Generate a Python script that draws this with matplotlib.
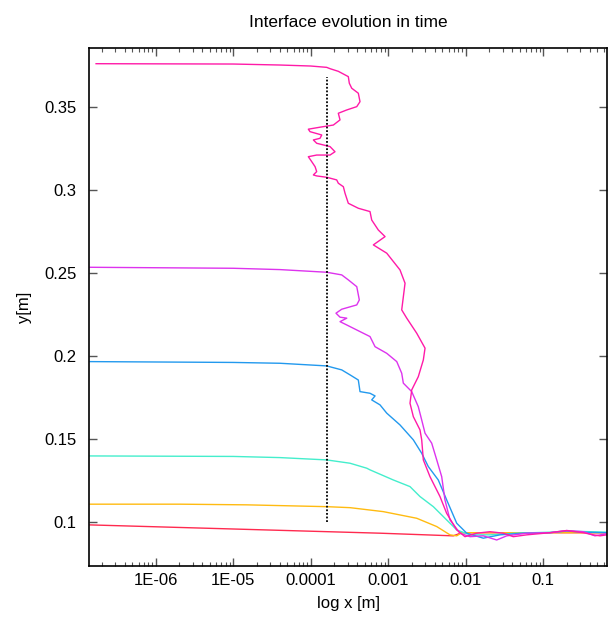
import numpy as np
import matplotlib
matplotlib.use("Agg")
import matplotlib.pyplot as plt
from matplotlib.ticker import FixedLocator, FixedFormatter, LogLocator, NullFormatter, NullLocator

plt.rcParams['font.family'] = ['Liberation Sans', 'DejaVu Sans']

# interface profiles, x given as log10(x [m]), y in m
pink_logx = [-6.770, -5.0, -4.396, -4.0, -3.794, -3.751, -3.644, -3.515, -3.502, -3.471, -3.386, -3.364, -3.406,
             -3.535, -3.644, -3.622, -3.708, -3.880, -4.031, -4.009, -3.858, -3.880, -3.966, -3.923, -3.751,
             -3.687, -3.751, -3.923, -4.031, -3.987, -3.944, -3.923, -3.966, -3.923, -3.794, -3.665, -3.644,
             -3.579, -3.557, -3.515, -3.386, -3.235, -3.213, -3.128, -3.041, -3.192, -3.019, -2.848, -2.783,
             -2.826, -2.761, -2.632, -2.525, -2.547, -2.612, -2.697, -2.719, -2.676, -2.590, -2.568, -2.547,
             -2.461, -2.332, -2.246, -2.116, -2.010, -1.858, -1.686, -1.515, -1.386, -1.213, -0.912, -0.697,
             -0.483, -0.354, -0.267, -0.181]
pink_y = [0.3764, 0.3762, 0.3756, 0.3750, 0.3742, 0.3734, 0.3718, 0.3686, 0.3646, 0.3616, 0.3586, 0.3535, 0.3505,
          0.3485, 0.3465, 0.3425, 0.3394, 0.3381, 0.3369, 0.3354, 0.3334, 0.3314, 0.3304, 0.3284, 0.3264,
          0.3233, 0.3213, 0.3213, 0.3203, 0.3173, 0.3143, 0.3113, 0.3093, 0.3087, 0.3079, 0.3063, 0.3043,
          0.3022, 0.2982, 0.2922, 0.2892, 0.2872, 0.2821, 0.2761, 0.2721, 0.2671, 0.2621, 0.2520, 0.2440,
          0.2279, 0.2229, 0.2138, 0.2048, 0.1977, 0.1876, 0.1796, 0.1716, 0.1635, 0.1555, 0.1495, 0.1374,
          0.1273, 0.1153, 0.1052, 0.0952, 0.0911, 0.0932, 0.0941, 0.0932, 0.0911, 0.0922, 0.0935, 0.0948,
          0.0935, 0.0922, 0.0916, 0.0922]

magenta_logx = [-6.848, -5.0, -4.396, -3.794, -3.600, -3.515, -3.406, -3.373, -3.406, -3.600, -3.674, -3.622,
                -3.535, -3.622, -3.535, -3.364, -3.235, -3.170, -3.019, -2.890, -2.826, -2.805, -2.697, -2.612,
                -2.568, -2.525, -2.439, -2.374, -2.310, -2.268, -2.203, -2.074, -1.945, -1.773, -1.600, -1.471,
                -1.213, -0.912, -0.697, -0.483, -0.332, -0.181]
magenta_y = [0.2536, 0.2530, 0.2522, 0.2506, 0.2490, 0.2460, 0.2419, 0.2339, 0.2309, 0.2283, 0.2259, 0.2235,
             0.2229, 0.2208, 0.2188, 0.2148, 0.2118, 0.2057, 0.2017, 0.1967, 0.1897, 0.1837, 0.1786, 0.1695,
             0.1615, 0.1535, 0.1475, 0.1374, 0.1273, 0.1133, 0.1012, 0.0932, 0.0911, 0.0916, 0.0891, 0.0916,
             0.0932, 0.0935, 0.0948, 0.0941, 0.0916, 0.0929]

blue_logx = [-6.848, -5.0, -4.396, -3.794, -3.600, -3.493, -3.386, -3.364, -3.235, -3.170, -3.213, -3.106,
             -3.019, -2.848, -2.676, -2.568, -2.483, -2.354, -2.246, -2.116, -1.987, -1.773, -1.557, -1.257,
             -0.912, -0.697, -0.483, -0.181]
blue_y = [0.1967, 0.1962, 0.1957, 0.1941, 0.1917, 0.1887, 0.1856, 0.1786, 0.1776, 0.1760, 0.1736, 0.1706,
          0.1656, 0.1585, 0.1495, 0.1414, 0.1334, 0.1253, 0.1133, 0.0992, 0.0932, 0.0902, 0.0922, 0.0932,
          0.0935, 0.0945, 0.0938, 0.0935]

cyan_logx = [-6.848, -5.0, -4.396, -3.794, -3.493, -3.277, -3.235, -2.934, -2.719, -2.590, -2.418, -2.246,
             -2.116, -1.945, -1.686, -1.342, -0.912, -0.697, -0.181]
cyan_y = [0.1398, 0.1395, 0.1388, 0.1374, 0.1354, 0.1324, 0.1314, 0.1253, 0.1213, 0.1153, 0.1092, 0.1012,
          0.0952, 0.0922, 0.0922, 0.0932, 0.0938, 0.0945, 0.0938]

gold_logx = [-6.848, -5.686, -4.826, -3.794, -3.493, -3.063, -2.632, -2.374, -2.203, -2.116, -2.05, -0.181]
gold_y = [0.1107, 0.1107, 0.1103, 0.1092, 0.1086, 0.1062, 0.1022, 0.0972, 0.0922, 0.0916, 0.0935, 0.0935]

red_logx = [-6.848, -3.106, -2.160, -2.05, -0.181]
red_y = [0.0982, 0.0932, 0.0916, 0.0935, 0.0935]

# dotted marker line
mark_x = 1.62e-4
mark_y = [0.1, 0.3686]

series = [
    (red_logx, red_y, '#ff2a4f'),
    (gold_logx, gold_y, '#ffbb11'),
    (cyan_logx, cyan_y, '#44eecc'),
    (blue_logx, blue_y, '#2299ee'),
    (magenta_logx, magenta_y, '#dd33ee'),
    (pink_logx, pink_y, '#ff1aa8'),
]

xticks = [1e-6, 1e-5, 1e-4, 1e-3, 1e-2, 1e-1]
xtick_labels = ['1E-06', '1E-05', '0.0001', '0.001', '0.01', '0.1']
yticks = [0.1, 0.15, 0.2, 0.25, 0.3, 0.35]
ytick_labels = ['0.1', '0.15', '0.2', '0.25', '0.3', '0.35']

fig = plt.figure(figsize=(6.11, 6.23), dpi=100)
ax = fig.add_axes([0.1462, 0.092, 0.8468, 0.8305])

for lx, y, c in series:
    ax.plot(10 ** np.array(lx), y, color=c, lw=1.0)

ax.plot([mark_x, mark_x], mark_y, color='black', lw=1.3, ls=(0, (1, 1)))

ax.set_xscale('log')
ax.set_xlim(1.39e-7, 0.66)
ax.set_ylim(0.0736, 0.3857)

ax.xaxis.set_major_locator(FixedLocator(xticks))
ax.xaxis.set_major_formatter(FixedFormatter(xtick_labels))
ax.xaxis.set_minor_locator(LogLocator(base=10, subs=np.arange(2, 10), numticks=20))
ax.xaxis.set_minor_formatter(NullFormatter())
ax.yaxis.set_major_locator(FixedLocator(yticks))
ax.yaxis.set_major_formatter(FixedFormatter(ytick_labels))
ax.yaxis.set_minor_locator(NullLocator())

ax.tick_params(which='both', direction='in', top=True, right=True, color='#555555', labelsize=12)
ax.tick_params(which='major', length=6, width=1.0)
ax.tick_params(which='minor', length=3, width=0.8)
ax.tick_params(axis='x', pad=5)
ax.tick_params(axis='y', pad=9)
for s in ax.spines.values():
    s.set_linewidth(1.2)

ax.set_title('Interface evolution in time', fontsize=12.5, pad=15)
ax.set_xlabel('log x [m]', fontsize=12, labelpad=6)
ax.set_ylabel('y[m]', fontsize=12, labelpad=9)

fig.savefig('out.png', dpi=100)
